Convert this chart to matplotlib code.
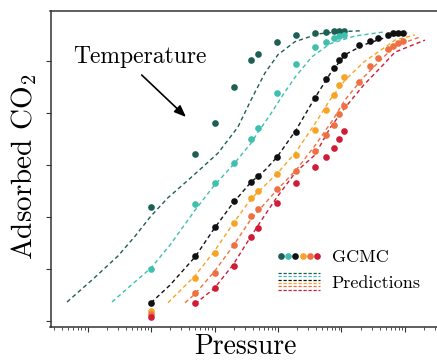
import matplotlib
matplotlib.use("Agg")
import matplotlib.pyplot as plt
from matplotlib.lines import Line2D
from matplotlib.legend_handler import HandlerBase
from matplotlib.ticker import NullFormatter

plt.rcParams['font.family'] = 'serif'
plt.rcParams['font.serif'] = ['cmr10']
plt.rcParams['mathtext.fontset'] = 'cm'
plt.rcParams['axes.formatter.use_mathtext'] = True

# GCMC pressures (shared grid)
pressure = [1, 5, 10, 20, 38, 48, 95, 190, 380, 560, 750, 900, 1100,
            1900, 2800, 3800, 5400, 6500, 7800, 9300]

# GCMC loadings, lowest temperature first
gcmc_t1 = [2.20, 3.21, 3.80, 4.50, 5.02, 5.13, 5.37, 5.49, 5.54, 5.56, 5.58, 5.58, 5.58]
gcmc_t2 = [0.99, 2.25, 2.66, 3.03, 3.50, 3.71, 4.39, 4.94, 5.26, 5.37, 5.44, 5.48, 5.50]
gcmc_t3 = [0.34, 1.24, 1.81, 2.30, 2.67, 2.79, 3.15, 3.64, 4.29, 4.65, 4.87, 5.02, 5.11,
           5.31, 5.39, 5.45, 5.50, 5.53, 5.54, 5.54]
gcmc_t4 = [0.20, 0.82, 1.31, 1.89, 2.36, 2.49, 2.83, 3.19, 3.67, 4.06, 4.35, 4.54, 4.69]
gcmc_t5 = [0.13, 0.53, 0.92, 1.46, 2.01, 2.15, 2.53, 2.88, 3.26, 3.58, 3.77, 3.98, 4.13,
           4.60, 4.90, 5.06, 5.23, 5.29, 5.35, 5.38]
gcmc_t6 = [0.08, 0.34, 0.63, 1.06, 1.62, 1.79, 2.26, 2.65, 2.96, 3.16, 3.33, 3.49, 3.66]

# model predictions
pred_p1 = [0.0475, 0.118, 0.302, 0.56, 1.0, 1.85, 3.69, 7.08, 11.4, 23.4, 37.6, 62.4,
           100, 185, 427, 881, 2030]
pred_t1 = [0.365, 0.79, 1.25, 1.63, 2.02, 2.37, 2.69, 3.0, 3.23, 3.73, 4.25, 4.77,
           5.12, 5.37, 5.52, 5.56, 5.58]
pred_p2 = [0.243, 0.467, 1.0, 1.99, 4.93, 9.8, 19.6, 37.6, 48.5, 74.8, 120, 192,
           343, 659, 1632, 4840]
pred_t2 = [0.365, 0.67, 1.02, 1.46, 2.13, 2.60, 3.0, 3.42, 3.63, 3.96, 4.35, 4.71,
           5.08, 5.33, 5.48, 5.56]
pred_p3 = [1.0, 1.99, 4.93, 9.8, 19.6, 37.6, 62.4, 96.3, 192, 381, 659, 1134, 2250,
           4660, 10950]
pred_t3 = [0.35, 0.69, 1.23, 1.77, 2.27, 2.67, 2.90, 3.15, 3.67, 4.29, 4.75, 5.12,
           5.31, 5.44, 5.54]
pred_p4 = [1.85, 4.93, 9.8, 19.6, 37.6, 96.3, 192, 381, 659, 1134, 2250, 4660, 6960, 14360]
pred_t4 = [0.35, 0.87, 1.33, 1.87, 2.35, 2.83, 3.25, 3.79, 4.25, 4.63, 4.98, 5.25, 5.40, 5.50]
pred_p5 = [3.43, 4.93, 9.8, 19.6, 37.6, 96.3, 192, 381, 735, 1134, 2250, 4660, 6960, 17230]
pred_t5 = [0.35, 0.52, 0.94, 1.44, 1.96, 2.52, 2.90, 3.37, 3.87, 4.25, 4.69, 5.08, 5.29, 5.46]
pred_p6 = [4.93, 9.8, 19.6, 37.6, 62.4, 96.3, 192, 381, 659, 1134, 2250, 4660, 6960, 20650]
pred_t6 = [0.33, 0.62, 1.08, 1.63, 2.04, 2.38, 2.87, 3.19, 3.71, 4.10, 4.54, 4.94, 5.17, 5.40]

colors = ['#1e5f55', '#3fbfae', '#111111', '#f7a425', '#ef7040', '#d01c36']
gcmc = [gcmc_t1, gcmc_t2, gcmc_t3, gcmc_t4, gcmc_t5, gcmc_t6]
preds = [(pred_p1, pred_t1), (pred_p2, pred_t2), (pred_p3, pred_t3),
         (pred_p4, pred_t4), (pred_p5, pred_t5), (pred_p6, pred_t6)]


class GCMCKey:
    def __init__(self, cols):
        self.cols = cols


class PredKey:
    def __init__(self, cols):
        self.cols = cols


class MarkerRow(HandlerBase):
    def create_artists(self, legend, orig_handle, xdescent, ydescent, width, height, fontsize, trans):
        n = len(orig_handle.cols)
        arts = []
        for i, c in enumerate(orig_handle.cols):
            x = -xdescent + width * i / (n - 1)
            arts.append(Line2D([x], [height / 2 - ydescent], marker='o', ms=4.8, mew=0, color=c,
                               ls='none', transform=trans))
        return arts


class DashStack(HandlerBase):
    def create_artists(self, legend, orig_handle, xdescent, ydescent, width, height, fontsize, trans):
        n = len(orig_handle.cols)
        arts = []
        for i, c in enumerate(orig_handle.cols):
            y = height / 2 - ydescent + ((n - 1) / 2 - i) * 2.5
            arts.append(Line2D([-xdescent - 2, -xdescent + width + 2], [y, y], color=c, lw=0.9,
                               dashes=(2.6, 1.4), transform=trans))
        return arts


W, H = 437, 360
fig = plt.figure(figsize=(W / 100, H / 100), dpi=100)
left, right, top, bottom = 50.5, 445, 11, 326.5
ax = fig.add_axes([left / W, 1 - bottom / H, (right - left) / W, (bottom - top) / H])

for (pp, pt), c in zip(preds, colors):
    ax.plot(pp, pt, color=c, lw=1.0, dashes=(3.0, 2.2), zorder=2)
for vals, c in zip(gcmc, colors):
    ax.plot(pressure[:len(vals)], vals, 'o', color=c, ms=4.8, mew=0, zorder=3)

ax.set_xscale('log')
ax.set_xlim(0.0261, 42700)
ax.set_ylim(-0.106, 5.96)
ax.set_yticks([0, 1, 2, 3, 4, 5])
ax.xaxis.set_minor_formatter(NullFormatter())
ax.tick_params(labelbottom=False, labelleft=False)
ax.tick_params(which='major', direction='out', length=3.5, width=0.8, color='#333333')
ax.tick_params(which='minor', direction='out', length=2.2, width=0.6, color='#333333')
for s in ['left', 'bottom', 'top', 'right']:
    ax.spines[s].set_linewidth(1.1)
    ax.spines[s].set_color('#333333')

fig.text(245 / W, 0.5 / H, 'Pressure', fontsize=20, ha='center', va='bottom')
fig.text(24 / W, 1 - 167 / H, r'Adsorbed $\mathrm{CO}_2$', fontsize=21, rotation=90,
         ha='center', va='center')

fig.text(140 / W, 1 - 57 / H, 'Temperature', fontsize=17, ha='center', va='center')
ax.annotate('', xy=(186, H - 117), xytext=(141.7, H - 75), xycoords='figure pixels',
            textcoords='figure pixels',
            arrowprops=dict(arrowstyle='-|>,head_length=0.7,head_width=0.28', color='black',
                            lw=1.2, shrinkA=0, shrinkB=0))

leg = ax.legend([GCMCKey(colors), PredKey(colors)], ['GCMC', 'Predictions'],
                handler_map={GCMCKey: MarkerRow(), PredKey: DashStack()},
                loc='center left', bbox_to_anchor=(281 / W, 1 - 270 / H),
                bbox_transform=fig.transFigure, frameon=False, fontsize=13,
                handlelength=2.0, handletextpad=0.8, labelspacing=0.55,
                borderpad=0, borderaxespad=0)

fig.savefig('out.png', dpi=100)
